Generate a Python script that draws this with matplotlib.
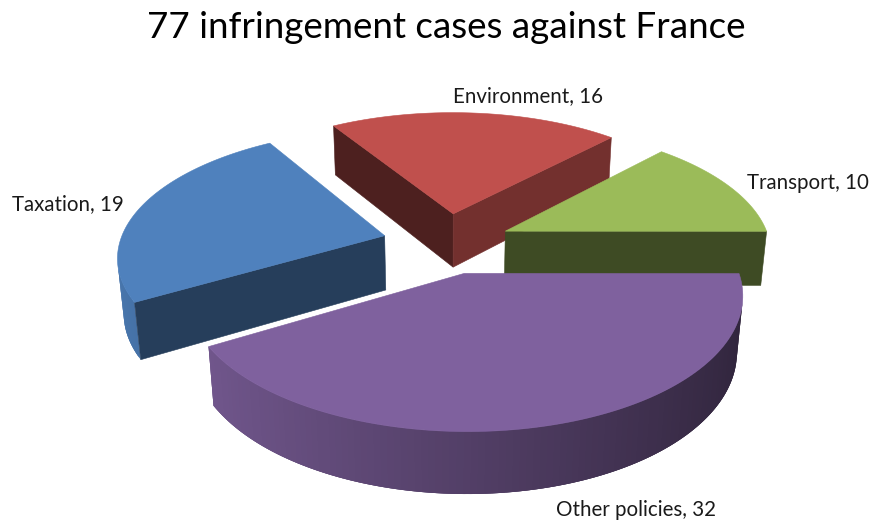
import numpy as np
import matplotlib
matplotlib.use("Agg")
import matplotlib.pyplot as plt
from matplotlib.patches import Polygon

plt.rcParams['font.family'] = ['Lato', 'DejaVu Sans']

title = "77 infringement cases against France"
categories = ["Environment", "Transport", "Other policies", "Taxation"]
values = [16, 10, 32, 19]

colors = ['#C0504D', '#9BBB59', '#7F619E', '#4F81BD']
# darkening of the two cut faces of each slice
cutshade = [(0.40, 0.60), (0.40, 0.40), (0.40, 0.40), (0.48, 0.48)]
labelpos = [(528, 96), (808, 183), (636, 510), (68, 204)]

# projection of the tilted pie to pixels
cx, cy = 446.8, 243.0
scale = 265.0
tilt = np.radians(28)
camdist = 5.9
height = 0.238
explode = 0.244
startangle = 121.5


def project(x, y, z):
    w = 1 + (y * np.cos(tilt) - z * np.sin(tilt)) / camdist
    return cx + scale * x / w, cy - scale * (y * np.sin(tilt) + z * np.cos(tilt)) / w


def darken(color, f):
    return tuple(c * f for c in matplotlib.colors.to_rgb(color))


def wallshade(a):
    return np.interp(np.cos(a), [-1, 1], [0.92, 0.38])


def quad(ax, pa, pb, color, zorder, lw=0.4):
    xa, ya = pa
    xb, yb = pb
    top = np.array([project(xa, ya, 0), project(xb, yb, 0),
                    project(xb, yb, -height), project(xa, ya, -height)])
    x, y = top[:, 0], top[:, 1]
    area = np.sum(x * np.roll(y, -1) - np.roll(x, -1) * y)
    if area < 0:
        ax.add_patch(Polygon(top, closed=True, fc=color, ec=color if lw else 'none',
                             lw=lw, zorder=zorder))


fig = plt.figure(figsize=(8.71, 5.22), dpi=100)
ax = fig.add_axes([0, 0, 1, 1])
ax.set_xlim(0, 871)
ax.set_ylim(522, 0)
ax.axis('off')

total = sum(values)
a1 = startangle
slices = []
for i, v in enumerate(values):
    a2 = a1 - 360.0 * v / total
    slices.append((i, a1, a2))
    a1 = a2

# far slices first, purple last
for z, (i, a1, a2) in enumerate([slices[0], slices[1], slices[3], slices[2]]):
    mid = np.radians((a1 + a2) / 2)
    ox, oy = explode * np.cos(mid), explode * np.sin(mid)
    angles = np.radians(np.linspace(a1, a2, 120))
    rimx = ox + np.cos(angles)
    rimy = oy + np.sin(angles)
    color = colors[i]
    zo = 2 + z * 3
    # rim strips overlap the next one so no seams show
    for k in range(len(angles) - 1):
        end = min(k + 3, len(angles) - 1)
        shade = wallshade((angles[k] + angles[k + 1]) / 2)
        quad(ax, (rimx[k], rimy[k]), (rimx[end], rimy[end]), darken(color, shade), zo, lw=0)
    quad(ax, (ox, oy), (rimx[0], rimy[0]), darken(color, cutshade[i][0]), zo)
    quad(ax, (rimx[-1], rimy[-1]), (ox, oy), darken(color, cutshade[i][1]), zo)
    px, py = project(np.r_[ox, rimx], np.r_[oy, rimy], 0)
    ax.add_patch(Polygon(np.c_[px, py], closed=True, fc=color, ec=color, lw=0.4, zorder=zo + 1))

for i, name in enumerate(categories):
    ax.text(labelpos[i][0], labelpos[i][1], f"{name}, {values[i]}", fontsize=14.8,
            color='#1a1a1a', ha='center', va='center', zorder=30)

ax.text(446, 27, title, fontsize=26.5, color='black', ha='center', va='center', zorder=30)

fig.savefig("out.png", dpi=100)
